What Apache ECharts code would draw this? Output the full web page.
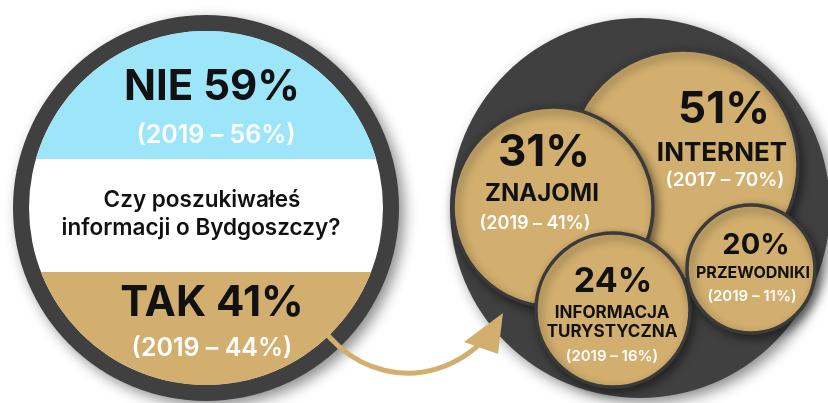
<!DOCTYPE html>
<html lang="pl">
<head>
<meta charset="utf-8">
<title>Czy poszukiwałeś informacji o Bydgoszczy?</title>
<script src="https://cdn.jsdelivr.net/npm/echarts@6/dist/echarts.min.js"></script>
<style>
  html, body { margin: 0; padding: 0; background: #fff; }
  #main { width: 828px; height: 403px; }
</style>
</head>
<body>
<div id="main"></div>
<script type="text/javascript">
// dane
var questionLines = ['Czy poszukiwałeś', 'informacji o Bydgoszczy?'];
var answerLabels = ['NIE', 'TAK'];
var answerValues = [59, 41];
var answerPrevYears = [2019, 2019];
var answerPrevValues = [56, 44];

var sourceLabels = [['INTERNET'], ['ZNAJOMI'], ['INFORMACJA', 'TURYSTYCZNA'], ['PRZEWODNIKI']];
var sourceValues = [51, 31, 24, 20];
var sourcePrevYears = [2017, 2019, 2019, 2019];
var sourcePrevValues = [70, 41, 16, 11];

// kolory i układ
var GOLD = '#d2af6e', BLUE = '#9de6f9', DARK = '#404040', INK = '#111111';
var FONT = 'Inter, "Noto Sans", sans-serif';

var left = { cx: 206, cy: 208, r: 193, ring: 16, blueTo: 159, goldFrom: 272 };
var right = { cx: 640, cy: 208, r: 190 };

// bąble: środek, promień, x tekstu (wartość/etykieta/nawias), y tekstów, rozmiary czcionek
var bubbles = [
  { cx: 683, cy: 165, r: 115, tx: [724, 722, 725], ty: [110, 153, 180], fs: [44, 26, 19] },
  { cx: 553, cy: 207, r: 100, tx: [544, 542, 535], ty: [153, 194, 224], fs: [44, 24, 18] },
  { cx: 613, cy: 310, r: 77,  tx: [613, 612, 612], ty: [282, 313, 332, 356], fs: [34, 17, 15] },
  { cx: 751, cy: 269, r: 64,  tx: [756, 753, 752], ty: [245, 273, 296], fs: [29, 16, 15] }
];

function segment(cx, cy, r, yChord, top) {
  // wielokąt odcinka koła odciętego poziomą cięciwą
  var pts = [];
  var a0 = Math.asin((yChord - cy) / r);
  var n = 80;
  for (var i = 0; i <= n; i++) {
    var a;
    if (top) a = Math.PI - a0 + (Math.PI + 2 * a0) * i / n; // od lewej przez górę
    else a = a0 + (Math.PI - 2 * a0) * i / n;                // od prawej przez dół
    pts.push([cx + r * Math.cos(a), cy + r * Math.sin(a)]);
  }
  return pts;
}

function text(str, x, y, size, weight, color, z) {
  return {
    type: 'text', z: z || 20,
    style: {
      text: str, x: x, y: y, fill: color,
      fontSize: size, fontWeight: weight, fontFamily: FONT,
      align: 'center', verticalAlign: 'middle'
    }
  };
}

var els = [];
var inner = left.r - left.ring;

// lewe koło
els.push({
  type: 'circle', z: 1,
  shape: { cx: left.cx, cy: left.cy, r: left.r },
  style: { fill: DARK, shadowBlur: 14, shadowOffsetX: 5, shadowOffsetY: 5, shadowColor: 'rgba(0,0,0,0.45)' }
});
els.push({ type: 'circle', z: 2, shape: { cx: left.cx, cy: left.cy, r: inner }, style: { fill: '#ffffff' } });
els.push({ type: 'polygon', z: 3, shape: { points: segment(left.cx, left.cy, inner, left.blueTo, true) }, style: { fill: BLUE } });
els.push({ type: 'polygon', z: 3, shape: { points: segment(left.cx, left.cy, inner, left.goldFrom, false) }, style: { fill: GOLD } });

els.push(text(answerLabels[0] + ' ' + answerValues[0] + '%', 212, 87, 42, 'bold', INK));
els.push(text('(' + answerPrevYears[0] + ' – ' + answerPrevValues[0] + '%)', 216, 135, 25, 600, '#ffffff'));
els.push(text(questionLines[0], 202, 200, 22.5, 600, INK));
els.push(text(questionLines[1], 201, 228, 22.5, 600, INK));
els.push(text(answerLabels[1] + ' ' + answerValues[1] + '%', 212, 303, 42, 'bold', INK));
els.push(text('(' + answerPrevYears[1] + ' – ' + answerPrevValues[1] + '%)', 212, 348, 25, 600, '#ffffff'));

// strzałka
els.push({
  type: 'bezierCurve', z: 6,
  shape: { x1: 310, y1: 305, cpx1: 336, cpy1: 372, cpx2: 425, cpy2: 402, x2: 487, y2: 337 },
  style: { fill: null, stroke: GOLD, lineWidth: 5 }
});
els.push({
  type: 'polygon', z: 6,
  shape: { points: [[503, 313], [464, 342], [498, 354]] },
  style: { fill: GOLD }
});

// prawe koło
els.push({
  type: 'circle', z: 4,
  shape: { cx: right.cx, cy: right.cy, r: right.r },
  style: { fill: DARK, shadowBlur: 14, shadowOffsetX: 5, shadowOffsetY: 5, shadowColor: 'rgba(0,0,0,0.45)' }
});

bubbles.forEach(function (b, i) {
  els.push({
    type: 'circle', z: 7 + i,
    shape: { cx: b.cx, cy: b.cy, r: b.r },
    style: { fill: GOLD, stroke: '#3a3a3a', lineWidth: 3.5, shadowBlur: 10, shadowOffsetX: 3, shadowOffsetY: 4, shadowColor: 'rgba(0,0,0,0.45)' }
  });
  var zt = 20 + i;
  els.push(text(sourceValues[i] + '%', b.tx[0], b.ty[0], b.fs[0], 'bold', INK, zt));
  var lines = sourceLabels[i];
  for (var k = 0; k < lines.length; k++) {
    els.push(text(lines[k], b.tx[1], b.ty[1 + k], b.fs[1], 'bold', INK, zt));
  }
  els.push(text('(' + sourcePrevYears[i] + ' – ' + sourcePrevValues[i] + '%)', b.tx[2], b.ty[1 + lines.length], b.fs[2], 600, '#ffffff', zt));
});

var myChart = echarts.init(document.getElementById('main'), null, { renderer: 'canvas' });
myChart.setOption({
  backgroundColor: '#ffffff',
  animation: false,
  graphic: { elements: els }
});
</script>
</body>
</html>
